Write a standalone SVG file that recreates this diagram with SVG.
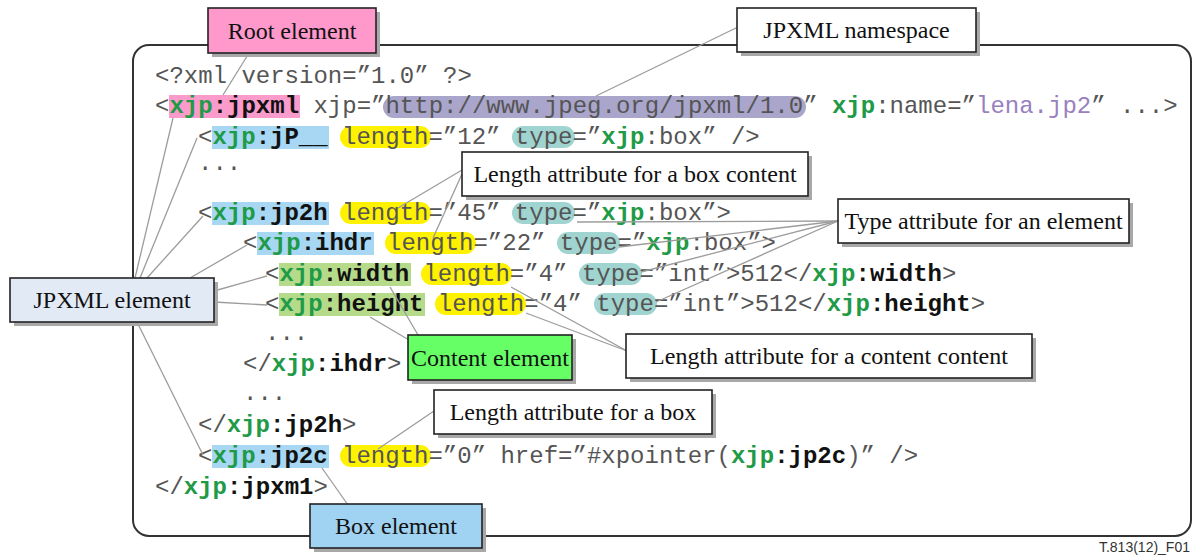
<svg xmlns="http://www.w3.org/2000/svg" width="1197" height="555" viewBox="0 0 1197 555">
<style>
.code{font-family:"Liberation Mono","Courier New",monospace;font-size:24px;fill:#555}
.g{fill:#1f9a47;font-weight:bold}
.k{fill:#111;font-weight:bold}
.p{fill:#9a7fc0}
.lbl{font-family:"Liberation Serif","Times New Roman",serif;font-size:24px;fill:#111;text-anchor:middle}
.box{stroke:#222;stroke-width:1.6}
.sh{fill:#a8a8a8}
.conn line{stroke:#9c9c9c;stroke-width:1.3}
.hp{fill:#fa9bcb}.hb{fill:#a7d7f2}.hg{fill:#b5db8a}.hy{fill:#fff200}.ht{fill:#a0d4d0}.hv{fill:#a9a5cb}
</style>
<rect width="1197" height="555" fill="#fff"/>
<rect x="133" y="45" width="1058" height="491" rx="16" fill="#fff" stroke="#333" stroke-width="2"/>
<g id="highlights">
<rect class="hp" x="169" y="95" width="131" height="23"/>
<rect class="hv" x="383" y="96" width="423" height="22" rx="11"/>
<rect class="hb" x="212" y="126" width="117" height="23"/>
<rect class="hy" x="340" y="126" width="91" height="22" rx="11"/>
<rect class="ht" x="512" y="126" width="63" height="22" rx="11"/>
<rect class="hb" x="212" y="202" width="117" height="23"/>
<rect class="hy" x="340" y="202" width="91" height="22" rx="11"/>
<rect class="ht" x="512" y="202" width="63" height="22" rx="11"/>
<rect class="hb" x="257" y="232" width="117" height="23"/>
<rect class="hy" x="385" y="232" width="91" height="22" rx="11"/>
<rect class="ht" x="557" y="232" width="63" height="22" rx="11"/>
<rect class="hg" x="279" y="263" width="132" height="23"/>
<rect class="hy" x="421" y="263" width="91" height="22" rx="11"/>
<rect class="ht" x="579" y="263" width="63" height="22" rx="11"/>
<rect class="hg" x="279" y="293" width="146" height="23"/>
<rect class="hy" x="435" y="293" width="91" height="22" rx="11"/>
<rect class="ht" x="594" y="293" width="63" height="22" rx="11"/>
<rect class="hb" x="212" y="445" width="117" height="23"/>
<rect class="hy" x="340" y="445" width="91" height="22" rx="11"/>
</g>
<g id="code" xml:space="preserve">
<text class="code" x="155" y="83">&lt;?xml version=”1.0” ?&gt;</text>
<text class="code" x="155" y="113">&lt;<tspan class="g">xjp</tspan><tspan class="k">:jpxml</tspan> xjp=”http://www.jpeg.org/jpxml/1.0” <tspan class="g">xjp</tspan>:name=”<tspan class="p">lena.jp2</tspan>” ...&gt;</text>
<text class="code" x="198" y="144">&lt;<tspan class="g">xjp</tspan><tspan class="k">:jP__</tspan> length=”12” type=”<tspan class="g">xjp</tspan>:box” /&gt;</text>
<text class="code" x="198" y="170">...</text>
<text class="code" x="198" y="220">&lt;<tspan class="g">xjp</tspan><tspan class="k">:jp2h</tspan> length=”45” type=”<tspan class="g">xjp</tspan>:box”&gt;</text>
<text class="code" x="243" y="250">&lt;<tspan class="g">xjp</tspan><tspan class="k">:ihdr</tspan> length=”22” type=”<tspan class="g">xjp</tspan>:box”&gt;</text>
<text class="code" x="265" y="281">&lt;<tspan class="g">xjp</tspan><tspan class="k">:width</tspan> length=”4” type=”int”&gt;512&lt;/<tspan class="g">xjp</tspan><tspan class="k">:width</tspan>&gt;</text>
<text class="code" x="265" y="311">&lt;<tspan class="g">xjp</tspan><tspan class="k">:height</tspan> length=”4” type=”int”&gt;512&lt;/<tspan class="g">xjp</tspan><tspan class="k">:height</tspan>&gt;</text>
<text class="code" x="265" y="340">...</text>
<text class="code" x="243" y="371">&lt;/<tspan class="g">xjp</tspan><tspan class="k">:ihdr</tspan>&gt;</text>
<text class="code" x="243" y="400">...</text>
<text class="code" x="198" y="432">&lt;/<tspan class="g">xjp</tspan><tspan class="k">:jp2h</tspan>&gt;</text>
<text class="code" x="198" y="463">&lt;<tspan class="g">xjp</tspan><tspan class="k">:jp2c</tspan> length=”0” href=”#xpointer(<tspan class="g">xjp</tspan><tspan class="k">:jp2c</tspan>)” /&gt;</text>
<text class="code" x="155" y="494">&lt;/<tspan class="g">xjp</tspan><tspan class="k">:jpxm1</tspan>&gt;</text>
</g>
<g id="connectors" class="conn">
<line x1="249" y1="53" x2="223" y2="95"/>
<line x1="738" y1="27" x2="596" y2="96"/>
<line x1="462" y1="170" x2="398" y2="208"/>
<line x1="462" y1="174" x2="433" y2="238"/>
<line x1="838" y1="221" x2="577" y2="222"/>
<line x1="838" y1="221" x2="619" y2="247"/>
<line x1="838" y1="221" x2="641" y2="272"/>
<line x1="838" y1="221" x2="656" y2="302"/>
<line x1="627" y1="351" x2="511" y2="287"/>
<line x1="627" y1="351" x2="526" y2="313"/>
<line x1="409" y1="340" x2="370" y2="317"/>
<line x1="418" y1="335" x2="390" y2="287"/>
<line x1="135" y1="278" x2="173" y2="118"/>
<line x1="140" y1="278" x2="197" y2="138"/>
<line x1="147" y1="278" x2="203" y2="216"/>
<line x1="190" y1="278" x2="247" y2="245"/>
<line x1="214" y1="291" x2="267" y2="276"/>
<line x1="214" y1="302" x2="267" y2="305"/>
<line x1="137" y1="322" x2="203" y2="455"/>
<line x1="348" y1="505" x2="322" y2="468"/>
<line x1="434" y1="411" x2="378" y2="449"/>
</g>
<g id="root-element">
<rect class="sh" x="212" y="12" width="168" height="45"/>
<rect class="box" x="208" y="8" width="168" height="45" fill="#ff99cc"/>
<text class="lbl" x="292" y="39">Root element</text>
</g>
<g id="jpxml-namespace">
<rect class="sh" x="741" y="12" width="239" height="44"/>
<rect class="box" x="737" y="8" width="239" height="44" fill="#fff"/>
<text class="lbl" x="856.5" y="38">JPXML namespace</text>
</g>
<g id="length-box-content">
<rect class="sh" x="466" y="156" width="346" height="44"/>
<rect class="box" x="462" y="152" width="346" height="44" fill="#fff"/>
<text class="lbl" x="635" y="182">Length attribute for a box content</text>
</g>
<g id="type-attribute">
<rect class="sh" x="842" y="203" width="291" height="44"/>
<rect class="box" x="838" y="199" width="291" height="44" fill="#fff"/>
<text class="lbl" x="983.5" y="229">Type attribute for an element</text>
</g>
<g id="jpxml-element">
<rect class="sh" x="14" y="282" width="204" height="44"/>
<rect class="box" x="10" y="278" width="204" height="44" fill="#e2eaf6"/>
<text class="lbl" x="112" y="308">JPXML element</text>
</g>
<g id="content-element">
<rect class="sh" x="412" y="339" width="164" height="45"/>
<rect class="box" x="408" y="335" width="164" height="45" fill="#66ff66"/>
<text class="lbl" x="490" y="366">Content element</text>
</g>
<g id="length-content-content">
<rect class="sh" x="630" y="338" width="406" height="44"/>
<rect class="box" x="626" y="334" width="406" height="44" fill="#fff"/>
<text class="lbl" x="829" y="364">Length attribute for a content content</text>
</g>
<g id="length-box">
<rect class="sh" x="438" y="394" width="278" height="44"/>
<rect class="box" x="434" y="390" width="278" height="44" fill="#fff"/>
<text class="lbl" x="573" y="420">Length attribute for a box</text>
</g>
<g id="box-element">
<rect class="sh" x="314" y="508" width="172" height="44"/>
<rect class="box" x="310" y="504" width="172" height="44" fill="#a0d3f2"/>
<text class="lbl" x="396" y="534">Box element</text>
</g>
<text x="1190" y="552" font-family="Liberation Sans, Arial, sans-serif" font-size="14" fill="#333" text-anchor="end">T.813(12)_F01</text>
</svg>
